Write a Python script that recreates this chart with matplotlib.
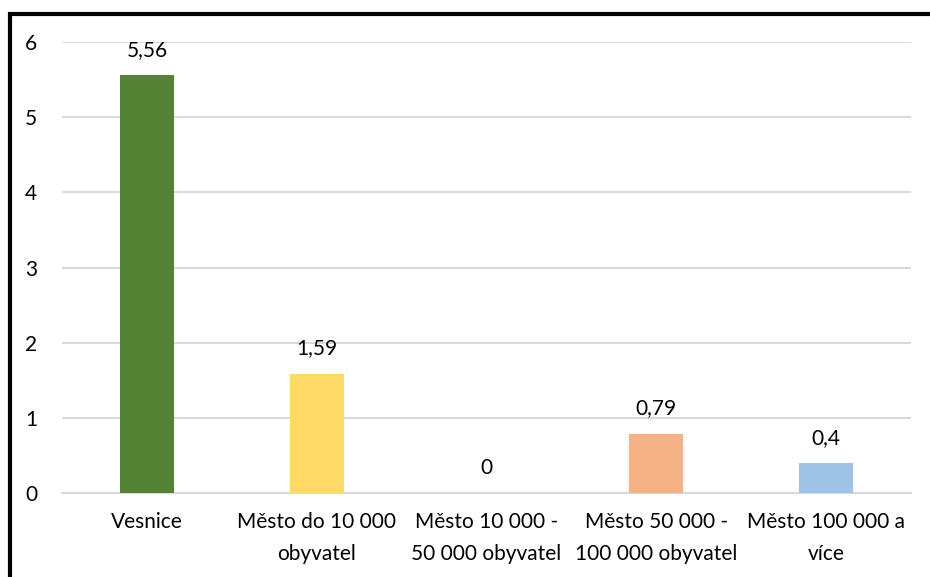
import matplotlib
matplotlib.use("Agg")
from matplotlib import pyplot as plt
from matplotlib.patches import Rectangle

categories = [
    "Vesnice",
    "Město do 10 000\nobyvatel",
    "Město 10 000 -\n50 000 obyvatel",
    "Město 50 000 -\n100 000 obyvatel",
    "Město 100 000 a\nvíce",
]
values = [5.56, 1.59, 0.0, 0.79, 0.4]
value_labels = ["5,56", "1,59", "0", "0,79", "0,4"]
colors = ["#548235", "#FFD966", "#A9D18E", "#F4B183", "#9DC3E6"]
yticks = [0, 1, 2, 3, 4, 5, 6]

plt.rcParams["font.family"] = ["Lato", "DejaVu Sans"]

fig = plt.figure(figsize=(9.3, 5.77), dpi=100)
ax = fig.add_axes([0.0667, 0.1456, 0.9129, 0.7814])

x = range(len(categories))
ax.bar(x, values, width=0.32, color=colors, zorder=3)

for xi, v, lab in zip(x, values, value_labels):
    ax.annotate(lab, (xi, v), xytext=(0, 11), textcoords="offset points",
                ha="center", va="bottom", fontsize=15, color="#000000",
                annotation_clip=False)

ax.set_xlim(-0.5, len(categories) - 0.5)
ax.set_ylim(0, 6)
ax.set_yticks(yticks)
ax.set_yticklabels([str(t) for t in yticks])
ax.set_xticks(list(x))
ax.set_xticklabels(categories, linespacing=1.75)
ax.tick_params(axis="both", length=0, labelsize=15, colors="#000000")
ax.tick_params(axis="y", pad=18)
ax.tick_params(axis="x", pad=14)

ax.grid(axis="y", color="#D9D9D9", linewidth=1.5, zorder=0)
for side in ["top", "right", "left"]:
    ax.spines[side].set_visible(False)
ax.spines["bottom"].set_color("#D9D9D9")
ax.spines["bottom"].set_linewidth(1.5)

# outer frame around the chart (cut off on the right and bottom)
fig.patches.append(Rectangle((10 / 930, -0.1), 1.2, 1.1 - 14 / 577,
                             transform=fig.transFigure, fill=False,
                             edgecolor="#000000", linewidth=3))

fig.savefig("out.png", dpi=100)
